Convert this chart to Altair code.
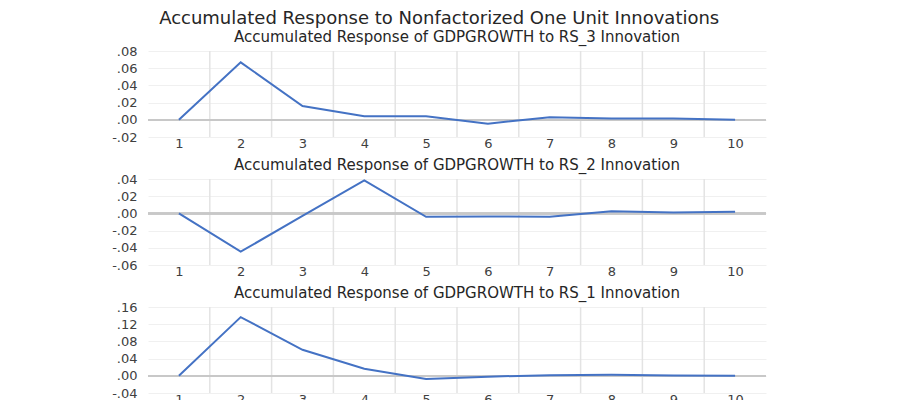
import altair as alt
import pandas as pd

steps = list(range(1, 11))
rs3 = [0.0, 0.0668, 0.0161, 0.0040, 0.0040, -0.0045, 0.0030, 0.0015, 0.0015, 0.0]
rs2 = [0.0, -0.0445, -0.0030, 0.0385, -0.0040, -0.0035, -0.0040, 0.0026, 0.0010, 0.0018]
rs1 = [0.0, 0.1365, 0.0605, 0.0165, -0.0075, -0.0020, 0.0015, 0.0025, 0.0008, 0.0]

ticks3 = [-0.02, 0.0, 0.02, 0.04, 0.06, 0.08]
ticks2 = [-0.06, -0.04, -0.02, 0.0, 0.02, 0.04]
ticks1 = [-0.04, 0.0, 0.04, 0.08, 0.12, 0.16]

main_title = "Accumulated Response to Nonfactorized One Unit Innovations"
titles = [
    "Accumulated Response of GDPGROWTH to RS_3 Innovation",
    "Accumulated Response of GDPGROWTH to RS_2 Innovation",
    "Accumulated Response of GDPGROWTH to RS_1 Innovation",
]

FONT = "DejaVu Sans"
LABEL_EXPR = "(datum.value < -0.000001 ? '-' : '') + replace(format(abs(datum.value), '.2f'), '0.', '.')"


def panel(vals, ticks, title):
    df = pd.DataFrame({"step": steps, "value": vals})
    xs = alt.Scale(domain=[0.5, 10.5], nice=False, zero=False)
    ys = alt.Scale(domain=[ticks[0], ticks[-1]], nice=False, zero=False)
    xaxis = alt.Axis(
        values=steps, format="d", grid=False, domain=False, ticks=False,
        tickSize=0, labelPadding=0, labelFontSize=13, labelFont=FONT,
        labelColor="#404040", title=None, labelFlush=False,
    )
    yaxis = alt.Axis(
        values=ticks, labelExpr=LABEL_EXPR, grid=True, gridColor="#f0f0f0",
        gridWidth=1, domain=False, ticks=False, tickSize=0, labelPadding=11,
        labelFontSize=13, labelFont=FONT, labelColor="#404040", title=None,
    )
    base = alt.Chart(df)
    vgrid = base.transform_filter("datum.step < 10").transform_calculate(
        xb="datum.step + 0.5"
    ).mark_rule(color="#e3e3e3", strokeWidth=1.5).encode(
        x=alt.X("xb:Q", scale=xs, axis=xaxis)
    )
    zero = base.mark_rule(color="#c8c8c8", strokeWidth=1.5).encode(
        y=alt.Y(datum=0, scale=ys, axis=yaxis)
    )
    line = base.mark_line(color="#4472C4", strokeWidth=2).encode(
        x=alt.X("step:Q", scale=xs, axis=xaxis),
        y=alt.Y("value:Q", scale=ys, axis=yaxis),
    )
    return alt.layer(vgrid, zero, line).properties(
        width=618,
        height=86,
        title=alt.TitleParams(
            title, font=FONT, fontSize=15, fontWeight="normal", color="#262626",
            anchor="middle", offset=0,
        ),
    )


chart = alt.vconcat(
    panel(rs3, ticks3, titles[0]),
    panel(rs2, ticks2, titles[1]),
    panel(rs1, ticks1, titles[2]),
    spacing=8,
).properties(
    title=alt.TitleParams(
        main_title, font=FONT, fontSize=18, fontWeight="normal", color="#262626",
        anchor="middle", offset=2,
    ),
    padding={"left": 103, "top": 2, "right": 0, "bottom": 0},
).configure_view(stroke=None)

chart.save("out.html", embed_options={"renderer": "svg", "actions": False})
